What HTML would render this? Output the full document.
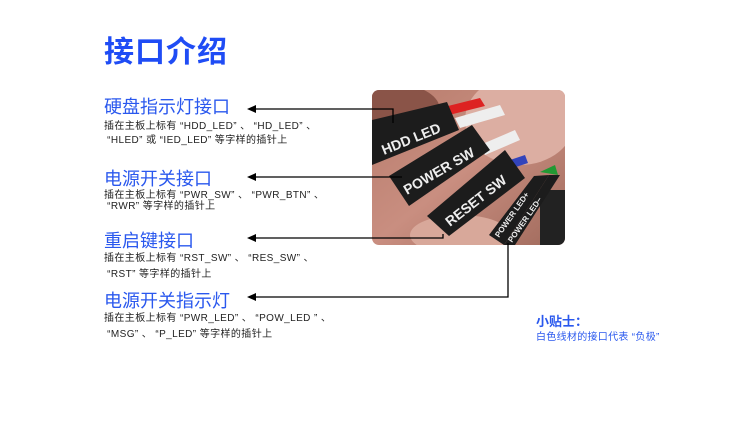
<!DOCTYPE html>
<html><head><meta charset="utf-8"><style>
html,body{margin:0;padding:0;background:#fff;width:750px;height:430px;overflow:hidden}
body{position:relative;font-family:"Liberation Sans","Noto Sans CJK SC",sans-serif}
.t{position:absolute;white-space:nowrap}
.h1{left:104px;top:27px;font-size:30px;color:#1f4cf5;font-weight:bold;letter-spacing:1px}
.h{font-size:18px;color:#2a58ee;left:104px}
.s{font-size:10px;color:#222;left:104px;line-height:14px;letter-spacing:0.4px}
</style></head><body>
<div class="t h1">接口介绍</div>
<div class="t h" style="top:93px">硬盘指示灯接口</div>
<div class="t s" style="top:120px">插在主板上标有 “HDD_LED” 、 “HD_LED” 、<br>&nbsp;“HLED” 或 “IED_LED” 等字样的插针上</div>
<div class="t h" style="top:165px">电源开关接口</div>
<div class="t s" style="top:190px;line-height:11px">插在主板上标有 “PWR_SW” 、 “PWR_BTN” 、<br>&nbsp;“RWR” 等字样的插针上</div>
<div class="t h" style="top:227px">重启键接口</div>
<div class="t s" style="top:251px;line-height:16px">插在主板上标有 “RST_SW” 、 “RES_SW” 、<br>&nbsp;“RST” 等字样的插针上</div>
<div class="t h" style="top:287px">电源开关指示灯</div>
<div class="t s" style="top:311px;line-height:16px">插在主板上标有 “PWR_LED” 、 “POW_LED ” 、<br>&nbsp;“MSG” 、 “P_LED” 等字样的插针上</div>
<div class="t" style="left:536px;top:311px;font-size:13px;color:#2a58ee;font-weight:bold">小贴士：</div>
<div class="t" style="left:536px;top:328px;font-size:10px;color:#2a58ee;letter-spacing:0.3px">白色线材的接口代表 “负极”</div>
<svg width="750" height="430" style="position:absolute;left:0;top:0">
<defs>
<clipPath id="c"><rect x="372" y="90" width="193" height="155" rx="7"/></clipPath>
<linearGradient id="g" x1="0" y1="0" x2="1" y2="1"><stop offset="0" stop-color="#b77c6c"/><stop offset=".5" stop-color="#c98e80"/><stop offset="1" stop-color="#a06a5c"/></linearGradient>
</defs>
<g clip-path="url(#c)">
<rect x="372" y="90" width="193" height="155" fill="url(#g)"/>
<ellipse cx="520" cy="120" rx="55" ry="45" fill="#dcaea2"/>
<ellipse cx="400" cy="110" rx="40" ry="25" fill="#8a5448"/>
<ellipse cx="460" cy="235" rx="50" ry="20" fill="#d8a89a"/>
<path d="M440 108 L480 98 L485 106 L445 116Z" fill="#d22"/>
<path d="M455 118 L500 105 L505 115 L460 128Z" fill="#eee"/>
<path d="M480 145 L515 130 L520 140 L485 155Z" fill="#eee"/>
<path d="M510 160 L525 155 L528 163 L513 168Z" fill="#34b"/>
<path d="M540 172 L555 165 L558 175Z" fill="#293"/>
<rect x="540" y="190" width="30" height="55" fill="#222"/>
<polygon points="372,120 447,102 459,130 372,165" fill="#1c1c1c"/>
<polygon points="389,176 472,125 490,150 409,206" fill="#1c1c1c"/>
<polygon points="427,216 505,150 525,178 449,236" fill="#1c1c1c"/>
<polygon points="489,235 534,176 549,175 504,245" fill="#1c1c1c"/>
<polygon points="504,245 549,175 560,175 515,245" fill="#1c1c1c"/>
<g fill="#eee" font-family="Liberation Sans,sans-serif" font-weight="bold">
<text x="0" y="0" font-size="14" transform="translate(384,155) rotate(-22)">HDD LED</text>
<text x="0" y="0" font-size="14" transform="translate(407,195) rotate(-30)">POWER SW</text>
<text x="0" y="0" font-size="14" transform="translate(450,227) rotate(-38)">RESET  SW</text>
<text x="0" y="0" font-size="8" transform="translate(499,238) rotate(-55)">POWER LED+</text>
<text x="0" y="0" font-size="8" transform="translate(512,243) rotate(-55)">POWER LED−</text>
</g>
</g>
<g stroke="#000" stroke-width="1.3" fill="none">
<polyline points="254,109 393,109 393,123"/>
<polyline points="254,177 402,177"/>
<polyline points="254,238 443,238 443,234"/>
<polyline points="254,297 508,297 508,243"/>
</g>
<g fill="#000">
<polygon points="247,109 256,105 256,113"/>
<polygon points="247,177 256,173 256,181"/>
<polygon points="247,238 256,234 256,242"/>
<polygon points="247,297 256,293 256,301"/>
</g>
</svg>
</body></html>
